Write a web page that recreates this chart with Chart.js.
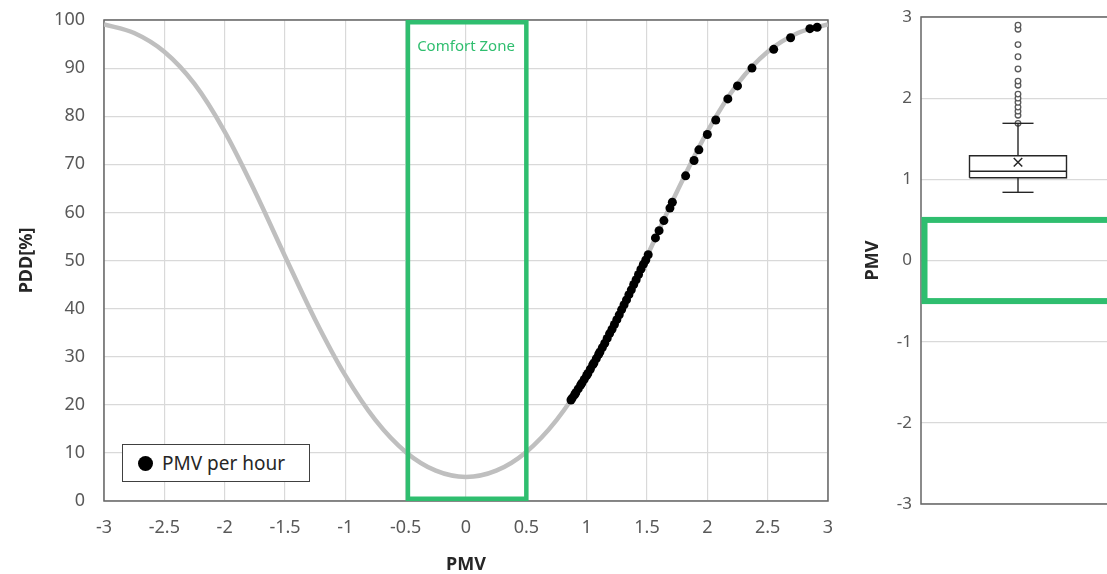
<!DOCTYPE html>
<html>
<head>
<meta charset="utf-8">
<script src="https://cdn.jsdelivr.net/npm/chart.js@4.4.1/dist/chart.umd.min.js"></script>
<style>
  html, body { margin: 0; padding: 0; background: #fff; }
  body { width: 1107px; height: 574px; overflow: hidden; position: relative; font-family: "Noto Sans", sans-serif; }
  #pddChart { position: absolute; left: 0; top: 0; }
  #boxChart { position: absolute; left: 850px; top: 0; }
  .legend {
    position: absolute; left: 122px; top: 444px; width: 188px; height: 38px;
    box-sizing: border-box; border: 1.5px solid #404040; background: #fff;
    display: flex; align-items: center; font-size: 19px; color: #262626;
  }
  .legend .dot { width: 15px; height: 15px; border-radius: 50%; background: #000; margin: 0 9px 0 15px; }
</style>
</head>
<body>
<canvas id="pddChart" width="850" height="600"></canvas>
<canvas id="boxChart" width="300" height="600"></canvas>
<div class="legend"><span class="dot"></span><span>PMV per hour</span></div>

<script>
// ===== Data =====
// PPD curve
const curvePMV = [-3, -2.75, -2.5, -2.25, -2, -1.75, -1.5, -1.25, -1, -0.75, -0.5, -0.25, 0,
                  0.25, 0.5, 0.75, 1, 1.25, 1.5, 1.75, 2, 2.25, 2.5, 2.75, 3];
const curvePDD = [99.1, 97.3, 93.4, 86.7, 76.8, 64.4, 50.9, 37.7, 26.1, 16.8, 10.2, 6.3, 5.0,
                  6.3, 10.2, 16.8, 26.1, 37.7, 50.9, 64.4, 76.8, 86.7, 93.4, 97.3, 99.1];

// hourly PMV points (black dots)
const hourPMV = [0.87, 0.88, 0.90, 0.91, 0.93, 0.95, 0.96, 0.98, 1.00, 1.01, 1.03, 1.05, 1.06, 1.08,
                 1.10, 1.11, 1.13, 1.15, 1.17, 1.19, 1.21, 1.23, 1.25, 1.27, 1.29, 1.31, 1.33, 1.35,
                 1.37, 1.39, 1.41, 1.43, 1.45, 1.47, 1.49, 1.51, 1.57, 1.60, 1.64, 1.69, 1.71, 1.82,
                 1.89, 1.93, 2.00, 2.07, 2.17, 2.25, 2.37, 2.55, 2.69, 2.85, 2.91];
const hourPDD = [21.0, 21.4, 22.1, 22.5, 23.3, 24.1, 24.5, 25.3, 26.1, 26.5, 27.4, 28.3, 28.7, 29.6,
                 30.5, 31.0, 31.9, 32.8, 33.8, 34.8, 35.7, 36.7, 37.7, 38.7, 39.8, 40.8, 41.8, 42.9,
                 43.9, 45.0, 46.0, 47.1, 48.2, 49.2, 50.1, 51.2, 54.7, 56.2, 58.3, 60.9, 62.1, 67.6,
                 70.8, 73.0, 76.2, 79.2, 83.6, 86.3, 90.0, 93.9, 96.3, 98.2, 98.5];

const comfortZone = [-0.5, 0.5];

// tick labels
const xTickValues = [-3, -2.5, -2, -1.5, -1, -0.5, 0, 0.5, 1, 1.5, 2, 2.5, 3];
const yTickValues = [0, 10, 20, 30, 40, 50, 60, 70, 80, 90, 100];
const boxTickValues = [-3, -2, -1, 0, 1, 2, 3];

// box plot: lower whisker, Q1, median, Q3, upper whisker
const boxValues = [0.84, 1.02, 1.10, 1.29, 1.69];
const boxMean = [1.21];
const boxOutliers = [1.69, 1.79, 1.84, 1.89, 1.95, 2.00, 2.05, 2.16, 2.21, 2.36, 2.51, 2.66, 2.85, 2.90];

// ===== Styles =====
const GREEN = '#2fbe6f';
const TICK_COLOR = '#595959';
const GRID_COLOR = '#d9d9d9';
const FONT = '"Noto Sans", sans-serif';

// fixed axis sizes, no label overhang padding
function fixSize(w, h) {
  return s => {
    if (w !== null) s.width = w;
    if (h !== null) s.height = h;
    s.paddingTop = 0; s.paddingBottom = 0; s.paddingLeft = 0; s.paddingRight = 0;
  };
}

// frame around plot area
const frame = {
  id: 'frame',
  beforeDatasetsDraw(chart) {
    const { ctx, chartArea: a } = chart;
    ctx.save();
    ctx.strokeStyle = '#666';
    ctx.lineWidth = 1.5;
    ctx.strokeRect(a.left, a.top, a.right - a.left, a.bottom - a.top);
    ctx.restore();
  }
};

// ===== PDD vs PMV chart =====
const comfortBox = {
  id: 'comfortBox',
  afterDatasetsDraw(chart) {
    const { ctx, scales: { x, y } } = chart;
    const lw = 4.5;
    const x1 = x.getPixelForValue(comfortZone[0]);
    const x2 = x.getPixelForValue(comfortZone[1]);
    const yTop = y.getPixelForValue(100);
    const yBot = y.getPixelForValue(0);
    ctx.save();
    ctx.strokeStyle = GREEN;
    ctx.lineWidth = lw;
    ctx.strokeRect(x1 + lw / 2, yTop + lw / 2, x2 - x1 - lw / 2, yBot - yTop - lw);
    ctx.fillStyle = GREEN;
    ctx.font = '15px ' + FONT;
    ctx.textAlign = 'center';
    ctx.textBaseline = 'middle';
    ctx.fillText('Comfort Zone', x.getPixelForValue(0), yTop + 27);
    ctx.restore();
  }
};

new Chart(document.getElementById('pddChart'), {
  type: 'scatter',
  data: {
    datasets: [
      {
        label: 'PMV per hour',
        data: hourPMV.map((v, i) => ({ x: v, y: hourPDD[i] })),
        pointRadius: 4.5,
        pointBackgroundColor: '#000',
        pointBorderWidth: 0,
        showLine: false
      },
      {
        label: 'PDD',
        data: curvePMV.map((v, i) => ({ x: v, y: curvePDD[i] })),
        showLine: true,
        borderColor: '#bfbfbf',
        borderWidth: 4.5,
        pointRadius: 0,
        cubicInterpolationMode: 'monotone'
      }
    ]
  },
  options: {
    responsive: false,
    animation: false,
    layout: { autoPadding: false, padding: { left: 0, top: 20, right: 22, bottom: 0 } },
    plugins: { legend: { display: false }, tooltip: { enabled: false } },
    scales: {
      x: {
        type: 'linear', min: -3, max: 3,
        afterBuildTicks: s => { s.ticks = xTickValues.map(v => ({ value: v })); },
        afterFit: fixSize(null, 99),
        grid: { color: GRID_COLOR, lineWidth: 1.2, drawTicks: false },
        border: { display: false },
        ticks: { color: TICK_COLOR, font: { family: FONT, size: 18 }, padding: 16, maxRotation: 0, callback: v => String(v) },
        title: { display: true, text: 'PMV', color: '#262626', font: { family: FONT, size: 18, weight: 'bold' }, padding: { top: 0, bottom: 24 } }
      },
      y: {
        min: 0, max: 100,
        afterBuildTicks: s => { s.ticks = yTickValues.map(v => ({ value: v })); },
        afterFit: fixSize(104, null),
        grid: { color: GRID_COLOR, lineWidth: 1.2, drawTicks: false },
        border: { display: false },
        ticks: { color: TICK_COLOR, font: { family: FONT, size: 18 }, padding: 19, callback: v => String(v) },
        title: { display: true, text: 'PDD[%]', color: '#262626', font: { family: FONT, size: 18, weight: 'bold' }, padding: { top: 16, bottom: 0 } }
      }
    }
  },
  plugins: [frame, comfortBox]
});

// ===== PMV box plot =====
const BOX_CENTER = 0.5, BOX_HALF = 0.25, CAP_HALF = 0.08;
const [wLow, q1, med, q3, wHigh] = boxValues;

function seg(points) {
  return {
    data: points.map(p => ({ x: p[0], y: p[1] })),
    showLine: true, borderColor: '#262626', borderWidth: 1.4, pointRadius: 0
  };
}

const comfortBand = {
  id: 'comfortBand',
  beforeDatasetsDraw(chart) {
    const { ctx, chartArea: a, scales: { y } } = chart;
    const lw = 6;
    const yTop = y.getPixelForValue(comfortZone[1]);
    const yBot = y.getPixelForValue(comfortZone[0]);
    ctx.save();
    ctx.strokeStyle = GREEN;
    ctx.lineWidth = lw;
    ctx.strokeRect(a.left + lw / 2 + 0.5, yTop, a.right + 40 - a.left, yBot - yTop);
    ctx.restore();
  }
};

new Chart(document.getElementById('boxChart'), {
  type: 'scatter',
  data: {
    datasets: [
      seg([[BOX_CENTER - BOX_HALF, q1], [BOX_CENTER + BOX_HALF, q1], [BOX_CENTER + BOX_HALF, q3],
           [BOX_CENTER - BOX_HALF, q3], [BOX_CENTER - BOX_HALF, q1]]),
      seg([[BOX_CENTER - BOX_HALF, med], [BOX_CENTER + BOX_HALF, med]]),
      seg([[BOX_CENTER, q3], [BOX_CENTER, wHigh]]),
      seg([[BOX_CENTER - CAP_HALF, wHigh], [BOX_CENTER + CAP_HALF, wHigh]]),
      seg([[BOX_CENTER, q1], [BOX_CENTER, wLow]]),
      seg([[BOX_CENTER - CAP_HALF, wLow], [BOX_CENTER + CAP_HALF, wLow]]),
      {
        data: boxMean.map(v => ({ x: BOX_CENTER, y: v })),
        pointStyle: 'crossRot', pointRadius: 6, pointBorderColor: '#262626', pointBorderWidth: 1.5
      },
      {
        data: boxOutliers.map(v => ({ x: BOX_CENTER, y: v })),
        pointStyle: 'circle', pointRadius: 2.8, pointBackgroundColor: '#fff',
        pointBorderColor: '#595959', pointBorderWidth: 1.3
      }
    ]
  },
  options: {
    responsive: false,
    animation: false,
    layout: { autoPadding: false, padding: { left: 0, top: 17, right: 35, bottom: 96 } },
    plugins: { legend: { display: false }, tooltip: { enabled: false } },
    scales: {
      x: { type: 'linear', min: 0, max: 1, display: false },
      y: {
        min: -3, max: 3,
        afterBuildTicks: s => { s.ticks = boxTickValues.map(v => ({ value: v })); },
        afterFit: fixSize(71, null),
        grid: { color: GRID_COLOR, lineWidth: 1.2, drawTicks: false },
        border: { display: false },
        ticks: { color: TICK_COLOR, font: { family: FONT, size: 17 }, padding: 9 },
        title: { display: true, text: 'PMV', color: '#262626', font: { family: FONT, size: 18, weight: 'bold' }, padding: { top: 12, bottom: 0 } }
      }
    }
  },
  plugins: [frame, comfortBand]
});
</script>
</body>
</html>
